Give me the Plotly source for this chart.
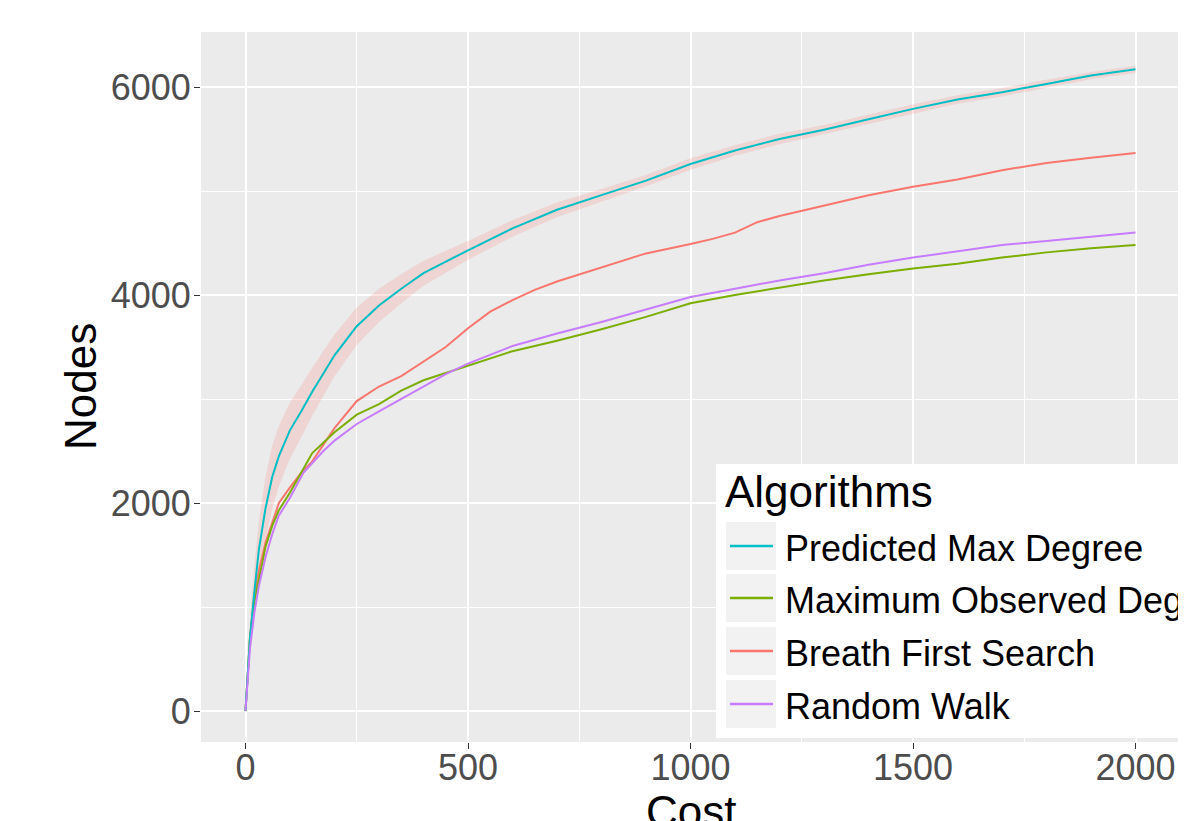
import plotly.graph_objects as go

# ---------------- data ----------------
cost_pmd = [0, 5, 10, 20, 30, 45, 60, 75, 100, 125, 150, 200, 250, 300, 350, 400, 500, 600, 700,
            800, 900, 1000, 1100, 1200, 1300, 1400, 1500, 1600, 1700, 1800, 1900, 2000]
nodes_pmd = [0, 350, 700, 1150, 1550, 1950, 2250, 2450, 2700, 2880, 3070, 3420, 3700, 3900, 4060, 4210,
             4430, 4640, 4820, 4960, 5100, 5260, 5390, 5500, 5590, 5690, 5790, 5880, 5950, 6030, 6110, 6170]
ribbon_upper = [0, 450, 880, 1400, 1830, 2250, 2550, 2740, 2970, 3130, 3300, 3620, 3880, 4060, 4200, 4330,
                4520, 4720, 4890, 5020, 5155, 5315, 5440, 5550, 5635, 5735, 5835, 5920, 5990, 6070, 6145, 6205]
ribbon_lower = [0, 250, 520, 900, 1270, 1650, 1950, 2160, 2430, 2630, 2840, 3220, 3520, 3740, 3920, 4090,
                4340, 4560, 4750, 4900, 5045, 5205, 5340, 5450, 5545, 5645, 5745, 5840, 5910, 5990, 6075, 6135]

cost_bfs = [0, 5, 10, 20, 30, 45, 60, 75, 100, 125, 150, 200, 250, 300, 350, 400, 450, 500, 550, 600, 650,
            700, 800, 900, 1000, 1050, 1100, 1150, 1200, 1300, 1400, 1500, 1600, 1700, 1800, 1900, 2000]
nodes_bfs = [0, 400, 700, 1120, 1350, 1620, 1820, 2000, 2150, 2290, 2400, 2720, 2980, 3120, 3220, 3360, 3500,
             3680, 3840, 3950, 4050, 4130, 4265, 4400, 4490, 4540, 4600, 4700, 4760, 4860, 4960, 5040, 5110,
             5200, 5270, 5320, 5365]

cost_mod = [0, 5, 10, 20, 30, 45, 60, 75, 100, 125, 150, 200, 250, 300, 350, 400, 500, 600, 700, 775, 800,
            900, 1000, 1100, 1200, 1300, 1400, 1500, 1600, 1700, 1800, 1900, 2000]
nodes_mod = [0, 380, 700, 1050, 1270, 1580, 1780, 1930, 2100, 2290, 2480, 2680, 2850, 2950, 3080, 3180, 3320,
             3460, 3560, 3640, 3670, 3790, 3920, 4000, 4070, 4140, 4200, 4255, 4300, 4360, 4410, 4450, 4480]

cost_rw = [0, 5, 10, 20, 30, 45, 60, 75, 100, 130, 175, 200, 250, 300, 350, 400, 450, 500, 600, 700, 800,
           900, 1000, 1100, 1200, 1300, 1400, 1500, 1600, 1700, 1800, 1900, 2000]
nodes_rw = [0, 300, 600, 950, 1200, 1480, 1700, 1880, 2050, 2290, 2500, 2600, 2760, 2880, 3000, 3120, 3240,
            3340, 3510, 3630, 3740, 3860, 3980, 4060, 4140, 4210, 4290, 4360, 4420, 4480, 4520, 4560, 4600]

legend_labels = ["Predicted Max Degree", "Maximum Observed Degree", "Breath First Search", "Random Walk"]
legend_colors = ["#00BFC4", "#7CAE00", "#F8766D", "#C77CFF"]

x_ticks = [0, 500, 1000, 1500, 2000]
y_ticks = [0, 2000, 4000, 6000]

# ---------------- figure ----------------
# the page body has an 8px margin, so the figure is sized to fit inside the window
OFF = 8
W, H = 1186 - OFF, 821 - OFF
ML, MR, MT, MB = 201 - OFF, 6, 32 - OFF, 79
PW, PH = W - ML - MR, H - MT - MB


def px(xp):
    # window pixel -> paper x
    return (xp - OFF - ML) / PW


def py(yp):
    # window pixel -> paper y
    return (H - MB - (yp - OFF)) / PH


fig = go.Figure()

fig.add_trace(go.Scatter(x=cost_pmd + cost_pmd[::-1], y=ribbon_upper + ribbon_lower[::-1],
                         fill="toself", fillcolor="rgba(248,118,109,0.2)", line=dict(width=0),
                         mode="lines", hoverinfo="skip", showlegend=False))

series = [
    (cost_bfs, nodes_bfs, "Breath First Search", "#F8766D"),
    (cost_mod, nodes_mod, "Maximum Observed Degree", "#7CAE00"),
    (cost_pmd, nodes_pmd, "Predicted Max Degree", "#00BFC4"),
    (cost_rw, nodes_rw, "Random Walk", "#C77CFF"),
]
for xs, ys, name, col in series:
    fig.add_trace(go.Scatter(x=xs, y=ys, mode="lines", name=name,
                             line=dict(color=col, width=2), showlegend=False))

font_family = "Liberation Sans, Arial, Helvetica, sans-serif"

axis_common = dict(
    showgrid=True, gridcolor="white", gridwidth=2.2,
    zeroline=False, showline=False,
    ticks="outside", ticklen=6, tickwidth=1.2, tickcolor="#333333",
    tickfont=dict(family=font_family, size=36, color="#4D4D4D"),
    automargin=False,
)

fig.update_xaxes(range=[-100, 2100], tickvals=x_ticks, ticktext=[str(v) for v in x_ticks],
                 ticklabelstandoff=-12,
                 minor=dict(tickvals=[250, 750, 1250, 1750], showgrid=True, gridcolor="white",
                            gridwidth=1.1, ticks=""),
                 **axis_common)
fig.update_yaxes(range=[-298, 6529], tickvals=y_ticks, ticktext=[str(v) for v in y_ticks],
                 ticklabelstandoff=-4,
                 minor=dict(tickvals=[1000, 3000, 5000], showgrid=True, gridcolor="white",
                            gridwidth=1.1, ticks=""),
                 **axis_common)

shapes = []
annotations = []

# axis titles
annotations.append(dict(text="Cost", x=0.5, xref="paper", y=py(785), yref="paper",
                        xanchor="center", yanchor="top", showarrow=False,
                        font=dict(family=font_family, size=44, color="black")))
annotations.append(dict(text="Nodes", x=px(80), xref="paper", y=0.5, yref="paper",
                        xanchor="center", yanchor="middle", textangle=-90, showarrow=False,
                        font=dict(family=font_family, size=44, color="black")))

# legend box
shapes.append(dict(type="rect", xref="paper", yref="paper", x0=px(716), x1=px(1200),
                   y0=py(738), y1=py(464), fillcolor="white", line=dict(width=0), layer="above"))
annotations.append(dict(text="Algorithms", x=px(723), xref="paper", y=py(491), yref="paper",
                        xanchor="left", yanchor="middle", showarrow=False,
                        font=dict(family=font_family, size=44, color="black")))
key_centers = [546, 598, 651, 704]
for lab, col, yc in zip(legend_labels, legend_colors, key_centers):
    shapes.append(dict(type="rect", xref="paper", yref="paper", x0=px(726), x1=px(776),
                       y0=py(yc + 24), y1=py(yc - 24), fillcolor="#F2F2F2",
                       line=dict(width=0), layer="above"))
    shapes.append(dict(type="line", xref="paper", yref="paper", x0=px(730), x1=px(773),
                       y0=py(yc), y1=py(yc), line=dict(color=col, width=2.5), layer="above"))
    annotations.append(dict(text=lab, x=px(783), xref="paper", y=py(yc + 2), yref="paper",
                            xanchor="left", yanchor="middle", showarrow=False,
                            font=dict(family=font_family, size=36, color="black")))

fig.update_layout(
    width=W, height=H,
    margin=dict(l=ML, r=MR, t=MT, b=MB),
    paper_bgcolor="white", plot_bgcolor="#EBEBEB",
    showlegend=False,
    shapes=shapes, annotations=annotations,
    font=dict(family=font_family),
)

fig.write_html("out.html")
